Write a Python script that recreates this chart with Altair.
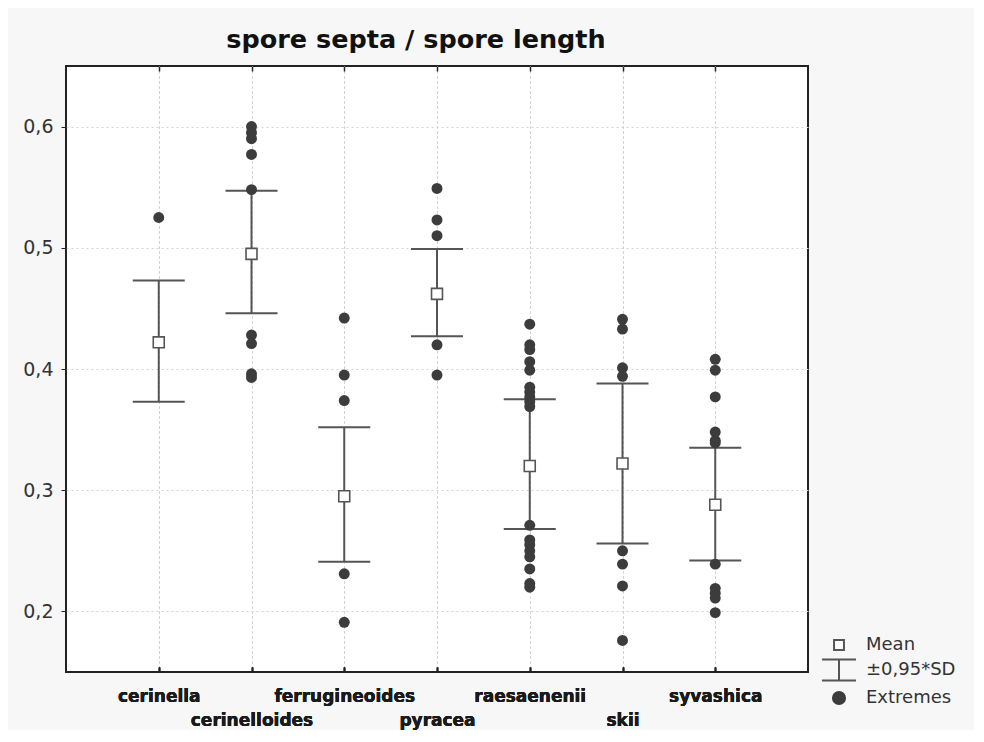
import json
import altair as alt
import pandas as pd

# ---------------- data ----------------
categories = ["cerinella", "cerinelloides", "ferrugineoides", "pyracea",
              "raesaenenii", "skii", "syvashica"]
means = [0.422, 0.495, 0.295, 0.462, 0.320, 0.322, 0.288]
sd_low = [0.373, 0.446, 0.241, 0.427, 0.268, 0.256, 0.242]
sd_high = [0.473, 0.547, 0.352, 0.499, 0.375, 0.388, 0.335]

extremes = {
    "cerinella": [0.525],
    "cerinelloides": [0.600, 0.595, 0.590, 0.577, 0.548, 0.428, 0.421, 0.396, 0.393],
    "ferrugineoides": [0.442, 0.395, 0.374, 0.231, 0.191],
    "pyracea": [0.549, 0.523, 0.510, 0.420, 0.395],
    "raesaenenii": [0.437, 0.420, 0.416, 0.406, 0.399, 0.385, 0.381, 0.377, 0.373,
                    0.369, 0.271, 0.259, 0.255, 0.250, 0.245, 0.235, 0.223, 0.220],
    "skii": [0.441, 0.433, 0.401, 0.394, 0.250, 0.239, 0.221, 0.176],
    "syvashica": [0.408, 0.399, 0.377, 0.348, 0.341, 0.339, 0.239, 0.219, 0.215,
                  0.211, 0.199],
}

legend_items = ["Mean", "±0,95*SD", "Extremes"]
y_ticks = [0.2, 0.3, 0.4, 0.5, 0.6]

# ---------------- tables ----------------
summary = pd.DataFrame({"species": categories, "mean": means,
                        "low": sd_low, "high": sd_high})
caps = pd.concat([
    pd.DataFrame({"species": categories, "v": sd_low}),
    pd.DataFrame({"species": categories, "v": sd_high}),
])
ext = pd.DataFrame([{"species": k, "v": v} for k, vals in extremes.items() for v in vals])
legend_df = pd.DataFrame({"series": legend_items, "species": [None] * 3, "v": [None] * 3})

DARK = "#3c3c3c"
LINE = "#555555"
FONT = "DejaVu Sans"

xscale = alt.Scale(type="point", padding=1, domain=categories)
yscale = alt.Scale(domain=[0.15, 0.65], nice=False, zero=False)

cats_js = json.dumps(categories)
label_expr = (f"indexof({cats_js}, datum.value) % 2 == 0 ? datum.value : ['', datum.value]")

x_axis = alt.Axis(orient="bottom", offset=-5, tickSize=5, tickColor="#222",
                  tickWidth=1.5, domain=False, grid=True, gridDash=[2, 3],
                  gridColor="#d2d2d2", labelExpr=label_expr, labelAngle=0,
                  labelFont=FONT, labelFontSize=17, labelFontWeight="bold",
                  labelColor="#1a1a1a", labelPadding=16, labelLineHeight=24,
                  labelOverlap=False)
x_top_axis = alt.Axis(orient="top", offset=-5, tickSize=5, tickColor="#222",
                      tickWidth=1.5, domain=False, grid=False, labels=False)
y_axis = alt.Axis(values=y_ticks, tickSize=5, tickColor="#222", domain=False,
                  grid=True, gridDash=[2, 3], gridColor="#d2d2d2",
                  labelExpr="replace(format(datum.value, '.1f'), '.', ',')",
                  labelFont=FONT, labelFontSize=19, labelColor="#333333",
                  labelPadding=8)


def X(axis):
    return alt.X("species:N", scale=xscale, title=None, axis=axis)


def Y(field):
    return alt.Y(field, scale=yscale, title=None, axis=y_axis)


rules = alt.Chart(summary).mark_rule(color=LINE, strokeWidth=2).encode(
    x=X(x_axis), y=Y("low:Q"), y2="high:Q")

cap_marks = alt.Chart(caps).mark_tick(orient="horizontal", color=LINE, thickness=2,
                                      size=52, opacity=1).encode(
    x=X(x_top_axis), y=Y("v:Q"))

points = alt.Chart(ext).mark_circle(color=DARK, size=120, opacity=1).encode(
    x=X(x_axis), y=Y("v:Q"))

mean_marks = alt.Chart(summary).mark_square(size=120, fill="white", stroke=LINE,
                                            strokeWidth=1.6, opacity=1, filled=True).encode(
    x=X(x_axis), y=Y("mean:Q"))

shape_paths = [
    "M-0.45,-0.45H0.45V0.45H-0.45Z",
    "M-1.55,-0.95H1.55M0,-0.95V0.95M-1.55,0.95H1.55",
    "M-0.55,0A0.55,0.55,0,1,0,0.55,0A0.55,0.55,0,1,0,-0.55,0Z",
]
legend_layer = alt.Chart(legend_df).mark_point(opacity=1).encode(
    x=X(x_axis),
    y=Y("v:Q"),
    shape=alt.Shape("series:N", scale=alt.Scale(domain=legend_items, range=shape_paths),
                    legend=alt.Legend(title=None, orient="none", legendX=761, legendY=567,
                                      symbolSize=484, symbolStrokeWidth=2,
                                      labelFont=FONT, labelFontSize=18, labelColor="#333333",
                                      labelOffset=15, rowPadding=1, padding=0)),
    fill=alt.Fill("series:N", scale=alt.Scale(domain=legend_items,
                                              range=["white", "transparent", DARK])),
    stroke=alt.Stroke("series:N", scale=alt.Scale(domain=legend_items,
                                                  range=[LINE, LINE, DARK])),
)

chart = alt.layer(rules, cap_marks, points, mean_marks, legend_layer).resolve_axis(
    x="independent"
).properties(
    width=742, height=606,
    padding={"left": 58, "top": 58, "right": 166, "bottom": 58},
    autosize=alt.AutoSizeParams(type="none"),
    background="#f7f7f7",
    title=alt.TitleParams("spore septa / spore length", font=FONT, fontSize=25.5,
                          fontWeight="bold", color="#111111", anchor="middle",
                          dx=-21, offset=12),
).configure_view(fill="white", stroke="#222222", strokeWidth=2)

chart.save("out.html", embed_options={"renderer": "svg", "actions": False})
